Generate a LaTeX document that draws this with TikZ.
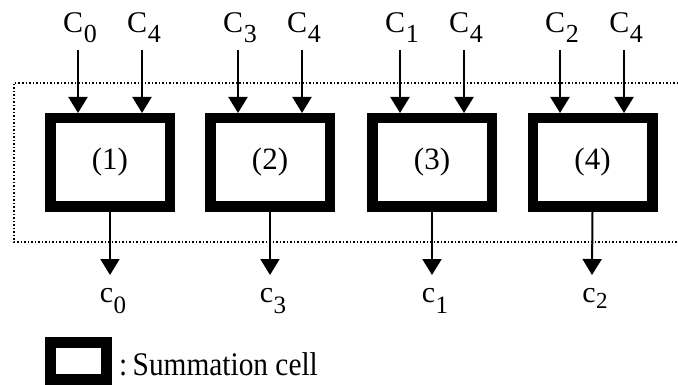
\documentclass[tikz,border=0pt]{standalone}
\usepackage{fontspec}
\setmainfont{Liberation Serif}
\usetikzlibrary{arrows.meta}

% letter with a lowered digit subscript: #1 letter, #2 digit, #3 drop, #4 digit size
\newcommand{\sublbl}[4]{#1\kern0.5pt\raisebox{-#3}{\fontsize{#4}{#4}\selectfont #2}}

\begin{document}
\begin{tikzpicture}[x=1pt,y=-1pt,
  cell/.style={draw, line width=10.5pt, minimum width=119.5pt, minimum height=88.5pt,
    inner sep=0pt, font=\fontsize{31}{33}\selectfont},
  arr/.style={line width=2pt, -{Triangle[width=19pt,length=16pt]}},
  lbl/.style={anchor=base, inner sep=0pt, font=\fontsize{30}{32}\selectfont},
  frame/.style={line width=1.5pt, dash pattern=on 1.5pt off 2pt}]
\useasboundingbox (0,0) rectangle (678,385);

% dotted frame round the cells (open to the right)
\draw[frame] (678,83) -- (14,83) -- (14,242) -- (678,242);

% summation cells
\node[cell] (b1) at (110,162.5) {(1)};
\node[cell] (b2) at (270,162.5) {(2)};
\node[cell] (b3) at (432,162.5) {(3)};
\node[cell] (b4) at (592.5,162.5) {(4)};

% inputs
\foreach \b/\xa/\xb/\ia/\ib in {b1/78/142/0/4, b2/238/302/3/4, b3/400/464/1/4, b4/560/624/2/4}{
  \node[lbl] (t\b a) at (\xa+2,33) {\sublbl{C}{\ia}{10pt}{26}};
  \node[lbl] (t\b b) at (\xb+2,33) {\sublbl{C}{\ib}{10pt}{26}};
  \coordinate (s\b a) at (\xa,50);
  \coordinate (s\b b) at (\xb,50);
  \draw[arr] (s\b a) -- (s\b a |- \b.north);
  \draw[arr] (s\b b) -- (s\b b |- \b.north);
}

% outputs
\coordinate (o1) at (110,275);
\coordinate (o2) at (270,275);
\coordinate (o3) at (432,275);
\coordinate (o4) at (592,275);
\draw[arr] (b1.south) -- (o1);
\draw[arr] (b2.south) -- (o2);
\draw[arr] (b3.south) -- (o3);
\draw[arr] (b4.south) -- (o4);
\node[lbl] (c1) at (113,302) {\sublbl{c}{0}{11pt}{25}};
\node[lbl] (c2) at (273,302) {\sublbl{c}{3}{11pt}{25}};
\node[lbl] (c3) at (435,302) {\sublbl{c}{1}{11pt}{25}};
\node[lbl] (c4) at (595,302) {\sublbl{c}{2}{6pt}{23}};

% legend
\node[draw, line width=11pt, minimum width=56pt, minimum height=37pt, inner sep=0pt] (leg) at (78.5,361) {};
\node[anchor=base west, inner sep=0pt, font=\fontsize{33}{35}\selectfont] (legtxt) at (119,375) {\scalebox{0.89}[1]{:\kern6pt Summation cell}};
\end{tikzpicture}
\end{document}
